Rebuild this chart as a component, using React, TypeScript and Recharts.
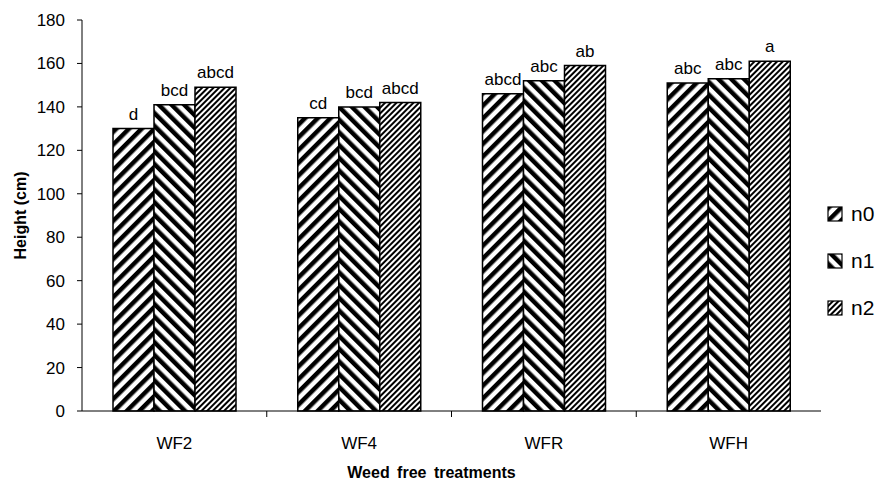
import { BarChart, Bar, XAxis, YAxis, Legend, LabelList } from 'recharts';

const categories = ['WF2', 'WF4', 'WFR', 'WFH'];
const n0Values = [130, 135, 146, 151];
const n1Values = [141, 140, 152, 153];
const n2Values = [149, 142, 159, 161];
const n0Letters = ['d', 'cd', 'abcd', 'abc'];
const n1Letters = ['bcd', 'bcd', 'abc', 'abc'];
const n2Letters = ['abcd', 'abcd', 'ab', 'a'];
const yTicks = [0, 20, 40, 60, 80, 100, 120, 140, 160, 180];
const seriesNames = ['n0', 'n1', 'n2'];

const data = categories.map((c, i) => ({
  name: c,
  n0: n0Values[i],
  n1: n1Values[i],
  n2: n2Values[i],
  l0: n0Letters[i],
  l1: n1Letters[i],
  l2: n2Letters[i],
}));

const FONT = '"Liberation Sans", Arial, sans-serif';
const patternIds = ['pat-n0', 'pat-n1', 'pat-n2'];

function Patterns() {
  return (
    <defs>
      <pattern id="pat-n0" width="9" height="9" patternUnits="userSpaceOnUse" patternTransform="rotate(45)">
        <rect width="9" height="9" fill="#fff" />
        <rect width="4.5" height="9" fill="#000" />
      </pattern>
      <pattern id="pat-n1" width="9" height="9" patternUnits="userSpaceOnUse" patternTransform="rotate(-45)">
        <rect width="9" height="9" fill="#fff" />
        <rect width="4.5" height="9" fill="#000" />
      </pattern>
      <pattern id="pat-n2" width="4" height="4" patternUnits="userSpaceOnUse" patternTransform="rotate(45)">
        <rect width="4" height="4" fill="#fff" />
        <rect width="2" height="4" fill="#000" />
      </pattern>
    </defs>
  );
}

function CategoryTick(props: any) {
  const { x, y, payload, index } = props;
  const half = payload.offset || 0;
  return (
    <g>
      {index > 0 && <line x1={x - half} x2={x - half} y1={y} y2={y + 6} stroke="#000" />}
      <text x={x} y={y + 38} textAnchor="middle" fontSize={17} fontFamily={FONT} fill="#000">
        {payload.value}
      </text>
    </g>
  );
}

function LegendContent() {
  return (
    <div style={{ fontFamily: FONT, fontSize: 21, color: '#000', paddingLeft: 6 }}>
      {seriesNames.map((s, i) => (
        <div key={s} style={{ display: 'flex', alignItems: 'center', height: 47 }}>
          <svg width={16} height={16} style={{ marginRight: 8 }}>
            <rect x={1} y={1} width={14} height={14} fill={`url(#${patternIds[i]})`} stroke="#000" strokeWidth={1.2} />
          </svg>
          <span>{s}</span>
        </div>
      ))}
    </div>
  );
}

export default function App() {
  return (
    <div style={{ position: 'absolute', left: 0, top: 0, background: '#fff' }}>
      <BarChart
        width={882}
        height={486}
        data={data}
        margin={{ top: 20, right: 2, bottom: 5, left: 4 }}
        barCategoryGap={31}
        barGap={0}
      >
        <Patterns />
        <XAxis
          dataKey="name"
          height={70}
          tickSize={0}
          tickMargin={0}
          tickLine={false}
          axisLine={{ stroke: '#000' }}
          tick={<CategoryTick />}
          label={{
            value: 'Weed free treatments',
            position: 'insideBottom',
            offset: 3,
            dx: -20,
            fontSize: 16,
            fontWeight: 'bold',
            fontFamily: FONT,
            fill: '#000',
            wordSpacing: 3,
          }}
        />
        <YAxis
          width={78}
          domain={[0, 180]}
          ticks={yTicks}
          interval={0}
          tickSize={5}
          tickMargin={12}
          axisLine={{ stroke: '#000' }}
          tickLine={{ stroke: '#000' }}
          tick={{ fontSize: 17, fontFamily: FONT, fill: '#000' }}
          label={{
            value: 'Height (cm)',
            angle: -90,
            position: 'insideLeft',
            offset: 16,
            fontSize: 16,
            fontWeight: 'bold',
            fontFamily: FONT,
            fill: '#000',
            style: { textAnchor: 'middle' },
          }}
        />
        <Legend
          layout="vertical"
          align="right"
          verticalAlign="middle"
          content={<LegendContent />}
          wrapperStyle={{ width: 59, right: 2, top: 190 }}
        />
        {seriesNames.map((s, i) => (
          <Bar key={s} dataKey={s} fill={`url(#${patternIds[i]})`} stroke="#000" strokeWidth={1.5} isAnimationActive={false}>
            <LabelList dataKey={`l${i}`} position="top" offset={9} fontSize={17} fontFamily={FONT} fill="#000" />
          </Bar>
        ))}
      </BarChart>
    </div>
  );
}
